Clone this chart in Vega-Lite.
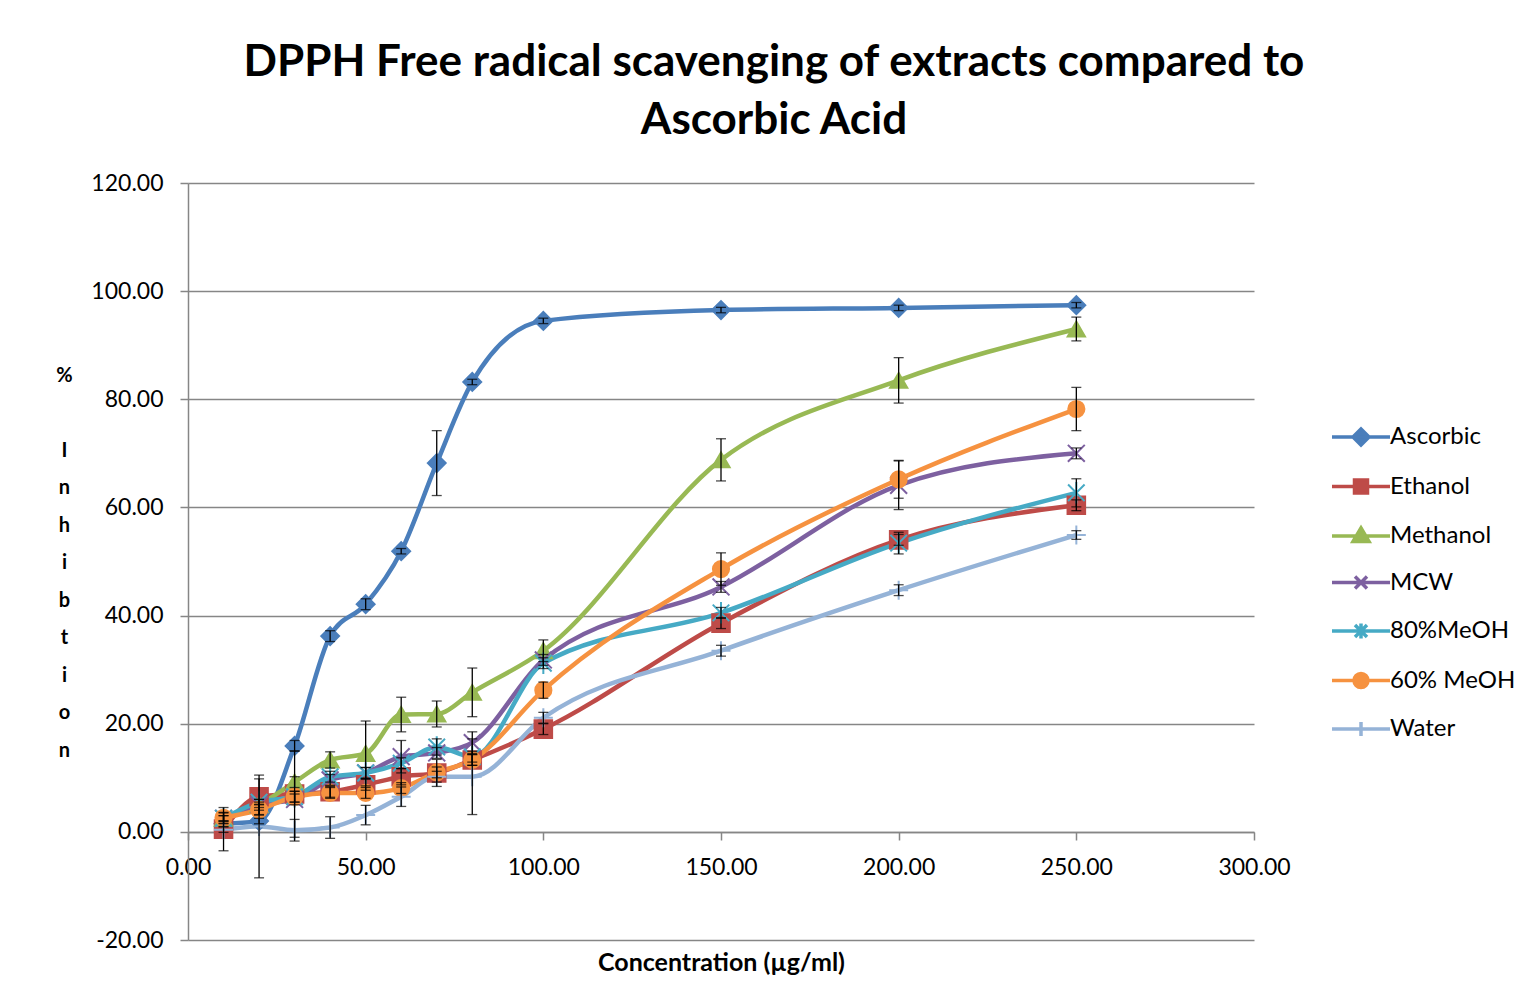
{
  "$schema": "https://vega.github.io/schema/vega-lite/v6.json",
  "width": 1066,
  "height": 757,
  "autosize": {"type": "none"},
  "padding": {"left": 188, "top": 183, "right": 274, "bottom": 65},
  "background": "white",
  "config": {
    "font": "Lato",
    "view": {"stroke": null},
    "axis": {"labelFont": "Lato", "titleFont": "Lato", "labelColor": "black", "titleColor": "black"}
  },
  "title": {
    "text": ["DPPH Free radical scavenging of extracts compared to", "Ascorbic Acid"],
    "font": "Lato",
    "fontSize": 44,
    "fontWeight": "bold",
    "color": "black",
    "anchor": "middle",
    "frame": "group",
    "dx": 53,
    "lineHeight": 58,
    "baseline": "bottom",
    "offset": -15
  },
  "data": {
    "values": [
      {"series": "Ascorbic", "x": 10, "y": 1.5, "err": 0.5},
      {"series": "Ascorbic", "x": 20, "y": 2.0, "err": 0.5},
      {"series": "Ascorbic", "x": 30, "y": 15.9, "err": 1},
      {"series": "Ascorbic", "x": 40, "y": 36.2, "err": 1},
      {"series": "Ascorbic", "x": 50, "y": 42.1, "err": 1},
      {"series": "Ascorbic", "x": 60, "y": 51.9, "err": 0.5},
      {"series": "Ascorbic", "x": 70, "y": 68.2, "err": 6},
      {"series": "Ascorbic", "x": 80, "y": 83.2, "err": 0.5},
      {"series": "Ascorbic", "x": 100, "y": 94.5, "err": 0.5},
      {"series": "Ascorbic", "x": 150, "y": 96.5, "err": 0.5},
      {"series": "Ascorbic", "x": 200, "y": 96.9, "err": 0.5},
      {"series": "Ascorbic", "x": 250, "y": 97.4, "err": 0.5},
      {"series": "Ethanol", "x": 10, "y": 0.5, "err": 4},
      {"series": "Ethanol", "x": 20, "y": 6.5, "err": 3.3},
      {"series": "Ethanol", "x": 30, "y": 7.0, "err": 8},
      {"series": "Ethanol", "x": 40, "y": 7.4, "err": 1},
      {"series": "Ethanol", "x": 50, "y": 8.7, "err": 1},
      {"series": "Ethanol", "x": 60, "y": 10.2, "err": 1.5},
      {"series": "Ethanol", "x": 70, "y": 10.9, "err": 2.5},
      {"series": "Ethanol", "x": 80, "y": 13.3, "err": 1},
      {"series": "Ethanol", "x": 100, "y": 19.0, "err": 1},
      {"series": "Ethanol", "x": 150, "y": 38.6, "err": 1},
      {"series": "Ethanol", "x": 200, "y": 54.0, "err": 1},
      {"series": "Ethanol", "x": 250, "y": 60.4, "err": 1},
      {"series": "Methanol", "x": 10, "y": 2.5, "err": 1},
      {"series": "Methanol", "x": 20, "y": 5.0, "err": 1},
      {"series": "Methanol", "x": 30, "y": 9.2, "err": 1},
      {"series": "Methanol", "x": 40, "y": 13.3, "err": 1.5},
      {"series": "Methanol", "x": 50, "y": 14.5, "err": 6},
      {"series": "Methanol", "x": 60, "y": 21.7, "err": 3.2},
      {"series": "Methanol", "x": 70, "y": 21.8, "err": 2.4},
      {"series": "Methanol", "x": 80, "y": 25.8, "err": 4.5},
      {"series": "Methanol", "x": 100, "y": 33.5, "err": 2},
      {"series": "Methanol", "x": 150, "y": 68.8, "err": 3.9},
      {"series": "Methanol", "x": 200, "y": 83.5, "err": 4.2},
      {"series": "Methanol", "x": 250, "y": 93.0, "err": 2.2},
      {"series": "MCW", "x": 10, "y": 2.5, "err": 0.5},
      {"series": "MCW", "x": 20, "y": 5.0, "err": 0.5},
      {"series": "MCW", "x": 30, "y": 6.0, "err": 1},
      {"series": "MCW", "x": 40, "y": 9.6, "err": 1},
      {"series": "MCW", "x": 50, "y": 10.9, "err": 1},
      {"series": "MCW", "x": 60, "y": 13.9, "err": 3},
      {"series": "MCW", "x": 70, "y": 14.6, "err": 1},
      {"series": "MCW", "x": 80, "y": 16.5, "err": 2},
      {"series": "MCW", "x": 100, "y": 31.8, "err": 1},
      {"series": "MCW", "x": 150, "y": 45.3, "err": 1},
      {"series": "MCW", "x": 200, "y": 64.1, "err": 4.5},
      {"series": "MCW", "x": 250, "y": 70.0, "err": 1},
      {"series": "80%MeOH", "x": 10, "y": 2.5, "err": 0.5},
      {"series": "80%MeOH", "x": 20, "y": 5.5, "err": 0.5},
      {"series": "80%MeOH", "x": 30, "y": 6.5, "err": 1},
      {"series": "80%MeOH", "x": 40, "y": 10.2, "err": 1},
      {"series": "80%MeOH", "x": 50, "y": 10.9, "err": 1},
      {"series": "80%MeOH", "x": 60, "y": 12.7, "err": 1},
      {"series": "80%MeOH", "x": 70, "y": 15.7, "err": 1.5},
      {"series": "80%MeOH", "x": 80, "y": 13.9, "err": 1},
      {"series": "80%MeOH", "x": 100, "y": 31.2, "err": 1},
      {"series": "80%MeOH", "x": 150, "y": 40.5, "err": 1},
      {"series": "80%MeOH", "x": 200, "y": 53.4, "err": 2},
      {"series": "80%MeOH", "x": 250, "y": 62.7, "err": 2.6},
      {"series": "60% MeOH", "x": 10, "y": 2.6, "err": 1},
      {"series": "60% MeOH", "x": 20, "y": 4.1, "err": 1},
      {"series": "60% MeOH", "x": 30, "y": 6.5, "err": 1},
      {"series": "60% MeOH", "x": 40, "y": 7.2, "err": 1},
      {"series": "60% MeOH", "x": 50, "y": 7.2, "err": 1},
      {"series": "60% MeOH", "x": 60, "y": 8.1, "err": 1},
      {"series": "60% MeOH", "x": 70, "y": 11.0, "err": 1},
      {"series": "60% MeOH", "x": 80, "y": 13.3, "err": 1},
      {"series": "60% MeOH", "x": 100, "y": 26.2, "err": 1.5},
      {"series": "60% MeOH", "x": 150, "y": 48.6, "err": 3},
      {"series": "60% MeOH", "x": 200, "y": 65.2, "err": 3.5},
      {"series": "60% MeOH", "x": 250, "y": 78.2, "err": 4},
      {"series": "Water", "x": 10, "y": 0.4, "err": 0.5},
      {"series": "Water", "x": 20, "y": 1.0, "err": 9.5},
      {"series": "Water", "x": 30, "y": 0.3, "err": 2},
      {"series": "Water", "x": 40, "y": 0.8, "err": 2},
      {"series": "Water", "x": 50, "y": 3.1, "err": 1.8},
      {"series": "Water", "x": 60, "y": 6.5, "err": 1.8},
      {"series": "Water", "x": 70, "y": 10.2, "err": 1},
      {"series": "Water", "x": 80, "y": 10.2, "err": 7},
      {"series": "Water", "x": 100, "y": 21.1, "err": 1},
      {"series": "Water", "x": 150, "y": 33.5, "err": 1},
      {"series": "Water", "x": 200, "y": 44.7, "err": 1},
      {"series": "Water", "x": 250, "y": 54.9, "err": 0.8}
    ]
  },
  "encoding": {
    "x": {
      "field": "x", "type": "quantitative",
      "scale": {"domain": [0, 300], "nice": false, "zero": false},
      "axis": {
        "title": "Concentration (µg/ml)",
        "titleFontSize": 25, "titleFontWeight": "bold", "titlePadding": 71,
        "values": [0, 50, 100, 150, 200, 250, 300],
        "format": ".2f", "labelFontSize": 23, "labelPadding": 16,
        "grid": false, "offset": -108,
        "domainColor": "#868686", "domainWidth": 1.5,
        "tickColor": "#868686", "tickWidth": 1.5, "tickSize": 8,
        "labelFlush": false
      }
    },
    "y": {
      "field": "y", "type": "quantitative",
      "scale": {"domain": [-20, 120], "nice": false, "zero": false},
      "axis": {
        "title": ["%", "\u2800", "I", "n", "h", "i", "b", "t", "i", "o", "n"],
        "titleAngle": 0, "titleFontSize": 20, "titleFontWeight": "bold",
        "titleAlign": "center", "titleBaseline": "middle",
        "titleX": -124, "titleY": 192, "titleLineHeight": 37.5,
        "values": [-20, 0, 20, 40, 60, 80, 100, 120],
        "labelExpr": "replace(format(datum.value, '.2f'), '\u2212', '-')",
        "labelFontSize": 23, "labelPadding": 17,
        "grid": true, "gridColor": "#868686", "gridWidth": 1.5,
        "domainColor": "#868686", "domainWidth": 1.5,
        "tickColor": "#868686", "tickWidth": 1.5, "tickSize": 8
      }
    }
  },
  "resolve": {
    "scale": {"shape": "independent"},
    "legend": {"color": "independent", "stroke": "independent", "shape": "independent"}
  },
  "layer": [
    {
      "mark": {"type": "line", "interpolate": "monotone", "strokeWidth": 4.5},
      "encoding": {
        "color": {
          "field": "series", "type": "nominal",
          "scale": {
            "domain": ["Ascorbic", "Ethanol", "Methanol", "MCW", "80%MeOH", "60% MeOH", "Water"],
            "range": ["#4A7EBB", "#BE4B48", "#98B954", "#7D60A0", "#46AAC5", "#F69240", "#95B3D7"]
          },
          "legend": null
        }
      }
    },
    {
      "mark": {"type": "point", "filled": true, "strokeWidth": 2, "opacity": 1},
      "encoding": {
        "color": {"field": "series", "type": "nominal", "legend": null},
        "stroke": {
          "field": "series", "type": "nominal",
          "scale": {
            "domain": ["Ascorbic", "Ethanol", "Methanol", "MCW", "80%MeOH", "60% MeOH", "Water"],
            "range": ["#4A7EBB", "#BE4B48", "#98B954", "#7D60A0", "#46AAC5", "#F69240", "#95B3D7"]
          },
          "legend": null
        },
        "shape": {
          "field": "series", "type": "nominal",
          "scale": {
            "domain": ["Ascorbic", "Ethanol", "Methanol", "MCW", "80%MeOH", "60% MeOH", "Water"],
            "range": ["diamond", "square", "triangle-up", "M-1,-1L1,1M1,-1L-1,1", "M-1,-1L1,1M1,-1L-1,1M0,-1.3V1.3", "circle", "M-1.2,0H1.2M0,-1.2V1.2"]
          },
          "legend": null
        },
        "size": {
          "field": "series", "type": "nominal",
          "scale": {
            "domain": ["Ascorbic", "Ethanol", "Methanol", "MCW", "80%MeOH", "60% MeOH", "Water"],
            "range": [320, 250, 300, 220, 230, 380, 160]
          },
          "legend": null
        }
      }
    },
    {
      "mark": {"type": "errorbar", "color": "black", "thickness": 1.3, "ticks": {"size": 10, "thickness": 1.3, "color": "black"}},
      "encoding": {
        "y": {"field": "y", "type": "quantitative"},
        "yError": {"field": "err"}
      }
    },
    {
      "transform": [{"filter": "false"}],
      "mark": {"type": "point", "filled": true, "strokeWidth": 3.5, "opacity": 1},
      "encoding": {
        "color": {
          "field": "series", "type": "nominal",
          "legend": {
            "title": null, "orient": "none", "legendX": 1161, "legendY": 242,
            "symbolSize": 400, "symbolStrokeWidth": 3.5, "labelFontSize": 24, "labelFont": "Lato", "labelColor": "black",
            "rowPadding": 20.5, "labelOffset": 17, "padding": 0
          }
        },
        "stroke": {
          "field": "series", "type": "nominal",
          "legend": {
            "title": null, "orient": "none", "legendX": 1161, "legendY": 242,
            "symbolSize": 400, "symbolStrokeWidth": 3.5, "labelFontSize": 24, "labelFont": "Lato", "labelColor": "black",
            "rowPadding": 20.5, "labelOffset": 17, "padding": 0
          }
        },
        "shape": {
          "field": "series", "type": "nominal",
          "scale": {
            "domain": ["Ascorbic", "Ethanol", "Methanol", "MCW", "80%MeOH", "60% MeOH", "Water"],
            "range": [
              "M-2.9,0H2.9M0,-0.8L0.8,0L0,0.8L-0.8,0Z",
              "M-2.9,0H2.9M-0.65,-0.65H0.65V0.65H-0.65Z",
              "M-2.9,0H2.9M0,-0.8L0.8,0.55H-0.8Z",
              "M-2.9,0H2.9M-0.6,-0.6L0.6,0.6M0.6,-0.6L-0.6,0.6",
              "M-2.9,0H2.9M-0.6,-0.6L0.6,0.6M0.6,-0.6L-0.6,0.6M0,-0.75V0.75",
              "M-2.9,0H2.9M-0.7,0A0.7,0.7 0 1,0 0.7,0A0.7,0.7 0 1,0 -0.7,0Z",
              "M-2.9,0H2.9M0,-0.7V0.7"
            ]
          },
          "legend": {
            "title": null, "orient": "none", "legendX": 1161, "legendY": 242,
            "symbolSize": 400, "symbolStrokeWidth": 3.5, "labelFontSize": 24, "labelFont": "Lato", "labelColor": "black",
            "rowPadding": 20.5, "labelOffset": 17, "padding": 0
          }
        }
      }
    }
  ]
}
